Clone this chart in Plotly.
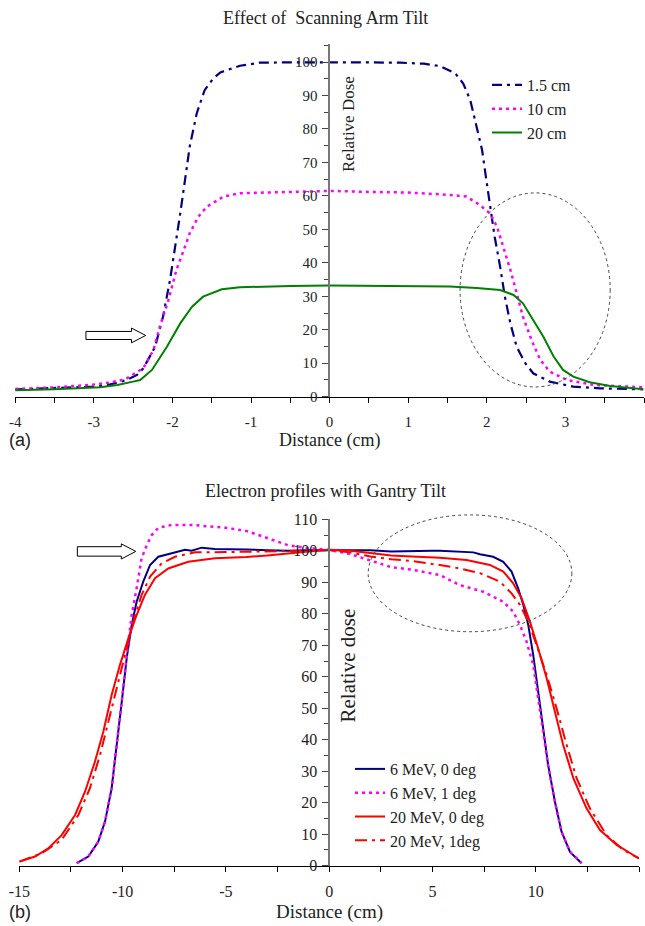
import plotly.graph_objects as go

# ---------------- Panel (a): Effect of Scanning Arm Tilt ----------------
a_x_15 = [-4, -3.5, -3, -2.8, -2.58, -2.45, -2.37, -2.22, -2.12, -2.03, -1.97, -1.90, -1.84,
          -1.78, -1.69, -1.59, -1.48, -1.39, -1.14, -0.89, -0.5, 0, 0.5, 0.9, 1.2, 1.4, 1.6,
          1.70, 1.79, 1.87, 1.94, 2.0, 2.04, 2.10, 2.17, 2.23, 2.30, 2.38, 2.49, 2.59, 2.80,
          3.10, 3.44, 3.99]
a_y_15 = [2.2, 2.6, 3.0, 3.6, 5.0, 6.5, 8.5, 14.9, 23.9, 34.9, 43.8, 54.8, 64.7,
          74.7, 84.7, 91.6, 95.1, 96.9, 98.9, 99.8, 99.9, 100, 99.9, 99.8, 99.5, 98.8, 96.6,
          93.6, 88.6, 80.7, 73.7, 63.8, 56.8, 47.8, 38.8, 29.9, 21.9, 14.9, 10.0, 7.0, 4.5,
          3.0, 2.5, 2.2]

a_x_10 = [-4, -3.5, -3.05, -2.8, -2.6, -2.47, -2.37, -2.24, -2.16, -2.05, -1.95, -1.84, -1.78,
          -1.67, -1.56, -1.35, -1.14, -0.97, -0.5, 0, 0.5, 1.0, 1.53, 1.74, 1.91, 2.04, 2.13,
          2.21, 2.30, 2.38, 2.46, 2.57, 2.68, 2.80, 3.02, 3.36, 3.99]
a_y_10 = [2.3, 2.8, 3.5, 4.2, 5.2, 7.0, 8.5, 14.0, 20.9, 28.9, 37.8, 44.8, 48.8,
          53.8, 56.8, 59.8, 60.8, 60.9, 61.2, 61.5, 61.2, 61.0, 60.3, 59.8, 57.3, 54.8, 50.8,
          44.8, 37.9, 30.9, 23.9, 16.9, 11.0, 7.5, 5.0, 3.5, 2.8]

a_x_20 = [-4, -3.5, -2.92, -2.7, -2.5, -2.41, -2.26, -2.07, -1.90, -1.75, -1.61, -1.37, -1.14,
          -0.89, -0.5, 0, 0.5, 1.0, 1.53, 1.87, 2.17, 2.34, 2.46, 2.59, 2.72, 2.85, 2.97, 3.10,
          3.31, 3.57, 3.99]
a_y_20 = [1.9, 2.2, 2.8, 3.5, 4.5, 5.0, 8.0, 14.9, 21.9, 26.9, 29.9, 32.1, 32.7,
          32.9, 33.1, 33.2, 33.1, 33.0, 32.9, 32.5, 31.9, 30.4, 27.9, 22.9, 17.9, 12.0, 8.0, 6.0,
          4.3, 3.2, 2.2]

a_names = ["1.5 cm", "10 cm", "20 cm"]
a_xticks = [-4, -3, -2, -1, 0, 1, 2, 3, 4]
a_xticktext = ["-4", "-3", "-2", "-1", "0", "1", "2", "3", "4"]
a_yticks = [0, 10, 20, 30, 40, 50, 60, 70, 80, 90, 100]

# ---------------- Panel (b): Electron profiles with Gantry Tilt ----------------
b_x_6_0 = [-12.22, -11.66, -11.18, -10.85, -10.53, -10.29, -10.04, -9.80, -9.56, -9.32, -9.0,
           -8.67, -8.27, -7.62, -6.98, -6.66, -6.17, -5.53, -5, -4, -3, -2, -1, 0, 1, 2, 3,
           4, 5, 5.36, 6.3, 6.98, 7.3, 7.94, 8.43, 8.83, 9.15, 9.4, 9.64, 9.88, 10.12, 10.36,
           10.6, 10.93, 11.25, 11.66, 12.22]
b_y_6_0 = [0.8, 2.9, 7.6, 14.0, 24.6, 37.3, 52.1, 65.9, 76.4, 83.8, 90.2,
           95.5, 98.1, 99.2, 100.3, 100.0, 101.0, 100.6, 100.6, 100.4, 100.2, 100.0, 100.2, 100.2, 100.3, 100.2, 99.8,
           100.0, 100.0, 100.0, 99.7, 99.5, 98.9, 98.1, 96.5, 93.4, 88.1, 82.8, 76.4, 66.9, 55.3, 43.6,
           32.0, 20.3, 10.8, 4.4, 0.8]

b_x_6_1 = [-12.22, -11.66, -11.18, -10.85, -10.53, -10.29, -10.04, -9.80, -9.56, -9.32, -9.08,
           -8.83, -8.59, -8.27, -7.62, -6.66, -5.53, -5, -4, -3, -2, -1, 0, 1, 2, 3, 4, 5,
           5.36, 6.33, 7.46, 8.43, 8.91, 9.24, 9.56, 9.88, 10.12, 10.36, 10.6, 10.93, 11.25,
           11.66, 12.22]
b_y_6_1 = [0.8, 2.9, 7.6, 14.0, 24.6, 37.3, 52.1, 66.5, 79.6, 88.1, 97.6,
           101.8, 105.0, 107.3, 108.2, 108.2, 107.5, 107.3, 106.3, 104.0, 101.8, 100.8, 100.3, 99.0, 97.0, 94.8, 94.0, 92.6,
           92.3, 89.1, 87.0, 83.8, 80.7, 76.4, 71.1, 63.7, 53.2, 43.0, 31.8, 20.3, 10.8,
           4.4, 0.8]

b_x_20_0 = [-15, -14.24, -13.6, -12.95, -12.3, -11.82, -11.34, -10.93, -10.53, -10.13, -9.72,
            -9.32, -8.92, -8.43, -7.79, -6.82, -5.53, -5, -4, -3, -2, -1, 0, 1, 2, 3, 4, 5,
            5.36, 6.65, 7.78, 8.43, 8.91, 9.32, 9.72, 10.12, 10.53, 10.93, 11.33, 11.82, 12.46,
            13.11, 13.92, 14.72, 15]
b_y_20_0 = [1.3, 2.9, 5.5, 9.7, 16.1, 23.5, 33.0, 42.6, 54.2, 63.7, 72.2,
            79.6, 86.0, 91.3, 94.4, 96.5, 97.6, 97.7, 98.0, 98.5, 99.2, 99.8, 100.3, 100.0, 99.3, 98.5, 98.2, 97.9,
            97.8, 97.1, 95.5, 93.4, 89.7, 84.9, 77.5, 69.0, 59.5, 48.9, 38.3, 27.8, 18.2,
            11.3, 6.6, 3.4, 2.3]

b_x_20_1 = [-15, -13.92, -12.95, -12.14, -11.58, -11.09, -10.69, -10.29, -9.88, -9.48, -9.08,
            -8.67, -8.11, -7.46, -6.5, -5.53, -5, -4, -3, -2, -1, 0, 1, 2, 3, 4, 5,
            5.36, 6.33, 7.3, 8.27, 8.83, 9.24, 9.64, 10.04, 10.53, 11.01, 11.5, 11.98, 12.62,
            13.43, 14.24, 15]
b_y_20_1 = [1.3, 3.9, 8.2, 16.1, 24.6, 35.2, 45.7, 56.3, 66.9, 77.5, 86.0,
            91.8, 96.0, 98.1, 99.5, 99.7, 99.6, 99.7, 99.8, 100.0, 100.1, 100.2, 99.5, 98.2, 97.3, 96.8, 95.8,
            95.5, 94.4, 92.9, 90.2, 86.5, 82.8, 77.5, 70.1, 60.6, 50.0, 38.3, 27.8, 18.2,
            9.7, 5.0, 2.3]

b_names = ["6 MeV, 0 deg", "6 MeV, 1 deg", "20 MeV, 0 deg", "20 MeV, 1deg"]
b_xticks = [-15, -10, -5, 0, 5, 10, 15]
b_xticktext = ["-15", "-10", "-5", "0", "5", "10", "15"]
b_yticks = [0, 10, 20, 30, 40, 50, 60, 70, 80, 90, 100, 110]
B_YMAX = 110

SERIF = "Liberation Serif, Times New Roman, serif"
SANS = "Liberation Sans, Arial, sans-serif"
NAVY = "#000080"
MAG = "#FF00FF"
GREEN = "#008000"
RED = "#FF0000"
TXT = "#222222"
YAX = "#777777"

fig = go.Figure()

# panel a traces
fig.add_trace(go.Scatter(x=a_x_15, y=a_y_15, name=a_names[0], mode="lines",
                         line=dict(color=NAVY, width=2.2, dash="10px,5px,3px,5px"),
                         xaxis="x", yaxis="y", legend="legend"))
fig.add_trace(go.Scatter(x=a_x_10, y=a_y_10, name=a_names[1], mode="lines",
                         line=dict(color=MAG, width=2.5, dash="3px,4px"),
                         xaxis="x", yaxis="y", legend="legend"))
fig.add_trace(go.Scatter(x=a_x_20, y=a_y_20, name=a_names[2], mode="lines",
                         line=dict(color=GREEN, width=2),
                         xaxis="x", yaxis="y", legend="legend"))

# panel b traces
fig.add_trace(go.Scatter(x=b_x_6_0, y=b_y_6_0, name=b_names[0], mode="lines",
                         line=dict(color=NAVY, width=2),
                         xaxis="x2", yaxis="y2", legend="legend2"))
fig.add_trace(go.Scatter(x=b_x_6_1, y=b_y_6_1, name=b_names[1], mode="lines",
                         line=dict(color=MAG, width=2.5, dash="3px,4px"),
                         xaxis="x2", yaxis="y2", legend="legend2"))
fig.add_trace(go.Scatter(x=b_x_20_0, y=b_y_20_0, name=b_names[2], mode="lines",
                         line=dict(color=RED, width=2),
                         xaxis="x2", yaxis="y2", legend="legend2"))
fig.add_trace(go.Scatter(x=b_x_20_1, y=b_y_20_1, name=b_names[3], mode="lines",
                         line=dict(color=RED, width=2, dash="12px,5px,3px,5px"),
                         xaxis="x2", yaxis="y2", legend="legend2"))

W, H = 645, 926
yaxis_pos = 329.3 / W

xcommon = dict(showline=True, linecolor="black", linewidth=1, ticks="outside", ticklen=5,
               tickcolor="black", showgrid=False, zeroline=False, automargin=False,
               tickfont=dict(family=SERIF, size=15, color=TXT), ticklabelstandoff=6)
ycommon = dict(showline=True, linecolor=YAX, linewidth=1.8, ticks="outside", ticklen=6,
               tickcolor="#444444", showgrid=False, zeroline=False, anchor="free",
               position=yaxis_pos, side="left", automargin=False,
               tickfont=dict(family=SERIF, size=15, color=TXT), ticklabelstandoff=2)

fig.update_layout(
    width=W, height=H, margin=dict(l=0, r=0, t=0, b=0, autoexpand=False),
    paper_bgcolor="white", plot_bgcolor="white", showlegend=True,
    xaxis=dict(xcommon, domain=[15.2 / W, 644 / W], range=[-4, 4], anchor="y",
               tickvals=a_xticks, ticktext=a_xticktext,
               minor=dict(dtick=0.5, tick0=0, ticks="outside", ticklen=5, tickcolor="black")),
    yaxis=dict(ycommon, domain=[1 - 396.7 / H, 1 - 44.3 / H], range=[0, 105.3],
               tickvals=a_yticks,
               minor=dict(dtick=5, tick0=0, ticks="outside", ticklen=4, tickcolor="#444444")),
    xaxis2=dict(xcommon, domain=[19.3 / W, 639 / W], range=[-15, 15], anchor="y2",
                tickvals=b_xticks, ticktext=b_xticktext,
                tickfont=dict(family=SERIF, size=16, color=TXT),
                minor=dict(dtick=2.5, tick0=0, ticks="outside", ticklen=5, tickcolor="black")),
    yaxis2=dict(ycommon, domain=[1 - 865.7 / H, 1 - 519.3 / H], range=[0, B_YMAX],
                tickvals=b_yticks,
                tickfont=dict(family=SERIF, size=16, color=TXT),
                minor=dict(dtick=5, tick0=0, ticks="outside", ticklen=4, tickcolor="#444444")),
    legend=dict(x=487 / W, y=1 - 68 / H, xanchor="left", yanchor="top",
                font=dict(family=SERIF, size=16, color=TXT), bgcolor="rgba(0,0,0,0)",
                tracegroupgap=0, itemwidth=30),
    legend2=dict(x=350 / W, y=1 - 752 / H, xanchor="left", yanchor="top",
                 font=dict(family=SERIF, size=16, color=TXT), bgcolor="rgba(0,0,0,0)",
                 tracegroupgap=0, itemwidth=30),
)

annots = [
    dict(text="Effect of&nbsp; Scanning Arm Tilt", x=325 / W, y=1 - 18 / H,
         font=dict(family=SERIF, size=18, color=TXT)),
    dict(text="Distance (cm)", x=329.3 / W, y=1 - 440 / H,
         font=dict(family=SERIF, size=18, color=TXT)),
    dict(text="(a)", x=20 / W, y=1 - 440 / H,
         font=dict(family=SANS, size=18, color=TXT)),
    dict(text="Relative Dose", x=348 / W, y=1 - 124 / H, textangle=-90,
         font=dict(family=SERIF, size=17, color=TXT)),
    dict(text="Electron profiles with Gantry Tilt", x=325 / W, y=1 - 491 / H,
         font=dict(family=SERIF, size=18, color=TXT)),
    dict(text="Distance (cm)", x=329.3 / W, y=1 - 912 / H,
         font=dict(family=SERIF, size=19, color=TXT)),
    dict(text="(b)", x=20 / W, y=1 - 912 / H,
         font=dict(family=SANS, size=18, color=TXT)),
    dict(text="Relative dose", x=347.5 / W, y=1 - 666 / H, textangle=-90,
         font=dict(family=SERIF, size=21, color=TXT)),
]
for a in annots:
    fig.add_annotation(xref="paper", yref="paper", showarrow=False,
                       xanchor="center", yanchor="middle", **a)

# dotted ellipses (highlight regions)
fig.add_shape(type="circle", xref="x", yref="y", x0=1.66, x1=3.57, y0=2.9, y1=60.9,
              line=dict(color="#444444", width=1, dash="dot"))
fig.add_shape(type="circle", xref="x2", yref="y2 domain", x0=1.89, x1=11.75,
              y0=74.3 / B_YMAX, y1=111.4 / B_YMAX,
              line=dict(color="#444444", width=1, dash="dot"))


def block_arrow(x0, xb, xt, yc, hb, hh):
    return (f"M {x0},{yc - hb} L {xb},{yc - hb} L {xb},{yc - hh} L {xt},{yc} "
            f"L {xb},{yc + hh} L {xb},{yc + hb} L {x0},{yc + hb} Z")


fig.add_shape(type="path", xref="x", yref="y",
              path=block_arrow(-3.10, -2.52, -2.34, 18.3, 1.2, 2.2),
              line=dict(color="black", width=1), fillcolor="white")
fig.add_shape(type="path", xref="x2", yref="y2",
              path=block_arrow(-12.19, -10.06, -9.36, 99.8, 1.5, 2.4),
              line=dict(color="black", width=1), fillcolor="white")

fig.write_html("out.html", config={"displayModeBar": False},
               post_script="document.body.style.margin='0';document.body.style.padding='0';")
